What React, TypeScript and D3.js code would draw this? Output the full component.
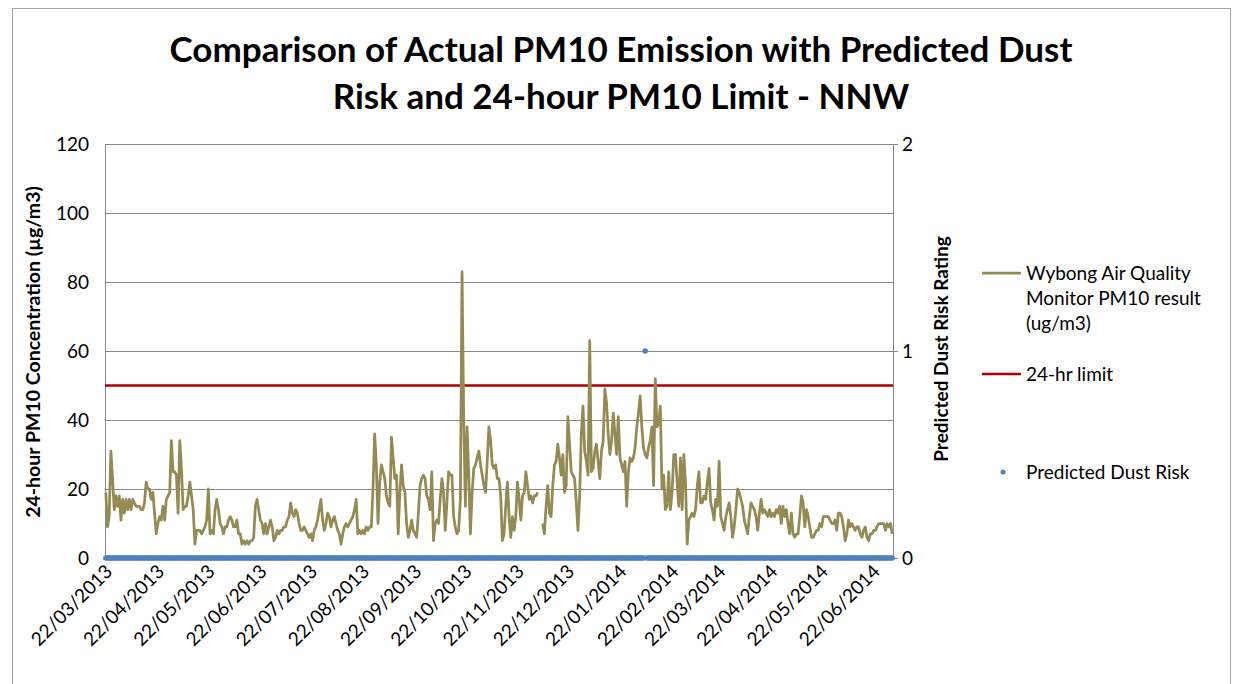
import React from 'react';
import * as d3 from 'd3';

// ---------- DATA ----------
const startDate = '22/03/2013';

// Daily Wybong PM10 (ug/m3), one value per day from 22/03/2013 (null = no data)
const pm10Values: (number | null)[] = [
  19, 9, 12, 31, 23, 14, 18, 15, 18, 11,
  17, 13, 17, 14, 17, 14, 17, 16, 15, 15,
  15, 14, 14, 16, 22, 20, 20, 17, 19, 13,
  7, 10, 12, 11, 15, 11, 17, 18, 19, 34,
  25, 25, 24, 13, 34, 26, 14, 15, 15, 18,
  22, 18, 14, 4, 8, 8, 8, 7, 8, 9,
  11, 20, 7, 8, 7, 14, 17, 14, 10, 9,
  7, 9, 9, 11, 12, 11, 9, 9, 11, 7,
  7, 4, 5, 4, 5, 4, 5, 5, 6, 15,
  17, 14, 11, 10, 7, 10, 7, 9, 11, 9,
  5, 6, 8, 7, 8, 8, 9, 9, 11, 12,
  16, 13, 12, 14, 13, 10, 8, 8, 9, 8,
  7, 6, 7, 5, 8, 9, 11, 14, 17, 11,
  8, 10, 13, 12, 9, 11, 12, 10, 8, 7,
  4, 7, 9, 10, 9, 10, 11, 12, 14, 17,
  7, 8, 7, 8, 7, 9, 8, 9, 9, 20,
  36, 27, 10, 22, 27, 25, 23, 18, 16, 15,
  35, 29, 23, 24, 7, 19, 27, 21, 19, 10,
  6, 8, 11, 8, 7, 6, 13, 21, 23, 24,
  23, 18, 17, 14, 25, 5, 10, 11, 10, 17,
  23, 19, 8, 16, 25, 24, 24, 12, 9, 7,
  8, 17, 83, 40, 15, 38, 24, 7, 19, 26,
  27, 29, 31, 27, 24, 21, 19, 28, 38, 34,
  27, 26, 27, 23, 23, 18, 5, 7, 15, 22,
  12, 6, 12, 8, 12, 22, 17, 11, 18, 19,
  25, 21, 17, 18, 16, 18, 18, 19, null, null,
  10, 7, 15, 21, 13, 12, 21, 27, 28, 33,
  29, 24, 30, 19, 21, 41, 33, 25, 24, 23,
  16, 8, 18, 36, 44, 31, 28, 24, 63, 25,
  26, 31, 33, 28, 23, 31, 34, 49, 45, 36,
  30, 34, 42, 36, 30, 41, 29, 27, 25, 28,
  15, 25, 29, 28, 29, 32, 38, 42, 47, 38,
  32, 30, 29, 32, 34, 38, 21, 52, 38, 39,
  44, 20, 24, 14, 15, 25, 14, 19, 30, 30,
  22, 15, 29, 14, 30, 22, 4, 11, 12, 13,
  12, 14, 21, 25, 16, 16, 18, 17, 22, 26,
  16, 14, 11, 17, 15, 28, 12, 10, 8, 12,
  14, 16, 12, 6, 9, 14, 20, 19, 17, 15,
  11, 9, 7, 12, 16, 15, 14, 12, 8, 13,
  17, 13, 14, 13, 12, 14, 12, 13, 12, 14,
  13, 15, 10, 15, 12, 14, 10, 7, 13, 7,
  6, 7, 7, 12, 18, 16, 9, 14, 12, 9,
  6, 6, 7, 8, 8, 10, 9, 12, 12, 12,
  12, 11, 10, 10, 11, 8, 13, 13, 12, 9,
  5, 7, 11, 9, 10, 9, 8, 9, 9, 7,
  6, 8, 9, 6, 5, 7, 7, 8, 8, 9,
  10, 10, 10, 10, 8, 10, 9, 10, 7,
];

// Daily predicted dust risk rating (right axis)
const dustRiskValues: number[] = [
  0, 0, 0, 0, 0, 0, 0, 0, 0, 0, 0, 0, 0, 0, 0, 0, 0, 0, 0, 0,
  0, 0, 0, 0, 0, 0, 0, 0, 0, 0, 0, 0, 0, 0, 0, 0, 0, 0, 0, 0,
  0, 0, 0, 0, 0, 0, 0, 0, 0, 0, 0, 0, 0, 0, 0, 0, 0, 0, 0, 0,
  0, 0, 0, 0, 0, 0, 0, 0, 0, 0, 0, 0, 0, 0, 0, 0, 0, 0, 0, 0,
  0, 0, 0, 0, 0, 0, 0, 0, 0, 0, 0, 0, 0, 0, 0, 0, 0, 0, 0, 0,
  0, 0, 0, 0, 0, 0, 0, 0, 0, 0, 0, 0, 0, 0, 0, 0, 0, 0, 0, 0,
  0, 0, 0, 0, 0, 0, 0, 0, 0, 0, 0, 0, 0, 0, 0, 0, 0, 0, 0, 0,
  0, 0, 0, 0, 0, 0, 0, 0, 0, 0, 0, 0, 0, 0, 0, 0, 0, 0, 0, 0,
  0, 0, 0, 0, 0, 0, 0, 0, 0, 0, 0, 0, 0, 0, 0, 0, 0, 0, 0, 0,
  0, 0, 0, 0, 0, 0, 0, 0, 0, 0, 0, 0, 0, 0, 0, 0, 0, 0, 0, 0,
  0, 0, 0, 0, 0, 0, 0, 0, 0, 0, 0, 0, 0, 0, 0, 0, 0, 0, 0, 0,
  0, 0, 0, 0, 0, 0, 0, 0, 0, 0, 0, 0, 0, 0, 0, 0, 0, 0, 0, 0,
  0, 0, 0, 0, 0, 0, 0, 0, 0, 0, 0, 0, 0, 0, 0, 0, 0, 0, 0, 0,
  0, 0, 0, 0, 0, 0, 0, 0, 0, 0, 0, 0, 0, 0, 0, 0, 0, 0, 0, 0,
  0, 0, 0, 0, 0, 0, 0, 0, 0, 0, 0, 0, 0, 0, 0, 0, 0, 0, 0, 0,
  0, 0, 0, 0, 0, 0, 0, 0, 0, 0, 0, 0, 0, 0, 0, 0, 0, 0, 0, 0,
  0, 1, 0, 0, 0, 0, 0, 0, 0, 0, 0, 0, 0, 0, 0, 0, 0, 0, 0, 0,
  0, 0, 0, 0, 0, 0, 0, 0, 0, 0, 0, 0, 0, 0, 0, 0, 0, 0, 0, 0,
  0, 0, 0, 0, 0, 0, 0, 0, 0, 0, 0, 0, 0, 0, 0, 0, 0, 0, 0, 0,
  0, 0, 0, 0, 0, 0, 0, 0, 0, 0, 0, 0, 0, 0, 0, 0, 0, 0, 0, 0,
  0, 0, 0, 0, 0, 0, 0, 0, 0, 0, 0, 0, 0, 0, 0, 0, 0, 0, 0, 0,
  0, 0, 0, 0, 0, 0, 0, 0, 0, 0, 0, 0, 0, 0, 0, 0, 0, 0, 0, 0,
  0, 0, 0, 0, 0, 0, 0, 0, 0, 0, 0, 0, 0, 0, 0, 0, 0, 0, 0, 0,
  0, 0, 0, 0, 0, 0, 0, 0, 0,
];

const limitValue = 50;

const leftTicks = [0, 20, 40, 60, 80, 100, 120];
const rightTicks = [0, 1, 2];

const xTickLabels = [
  '22/03/2013', '22/04/2013', '22/05/2013', '22/06/2013', '22/07/2013', '22/08/2013',
  '22/09/2013', '22/10/2013', '22/11/2013', '22/12/2013', '22/01/2014', '22/02/2014',
  '22/03/2014', '22/04/2014', '22/05/2014', '22/06/2014',
];

const titleLines = [
  'Comparison of Actual PM10 Emission with Predicted Dust',
  'Risk and 24-hour PM10 Limit - NNW',
];
const leftAxisTitle = '24-hour PM10 Concentration (µg/m3)';
const rightAxisTitle = 'Predicted Dust Risk Rating';

const legendPm10 = ['Wybong Air Quality', 'Monitor PM10 result', '(ug/m3)'];
const legendLimit = '24-hr limit';
const legendRisk = 'Predicted Dust Risk';

// ---------- STYLE ----------
const COLORS = {
  pm10: '#948A54',
  limit: '#B00000',
  risk: '#4F81BD',
  grid: '#898989',
  text: '#000000',
};
const FONT = "Lato, 'Open Sans', sans-serif";

const DAY = 86400000;
const parseDMY = (s: string) => {
  const [d, m, y] = s.split('/').map(Number);
  return new Date(Date.UTC(y, m - 1, d));
};
const addDays = (dt: Date, n: number) => new Date(dt.getTime() + n * DAY);

export default function App() {
  const W = 1237;
  const H = 684;
  const plot = { left: 105, right: 893, top: 144, bottom: 558 };

  const start = parseDMY(startDate);
  const n = pm10Values.length;

  const x = d3
    .scaleUtc()
    .domain([addDays(start, -0.5), addDays(start, n - 0.5)])
    .range([plot.left, plot.right]);
  const y = d3.scaleLinear().domain([0, 120]).range([plot.bottom, plot.top]);
  const y2 = d3.scaleLinear().domain([0, 2]).range([plot.bottom, plot.top]);

  const pmPoints = pm10Values.map((v, i) => ({ date: addDays(start, i), v }));
  const riskPoints = dustRiskValues.map((v, i) => ({ date: addDays(start, i), v }));

  const line = d3
    .line<{ date: Date; v: number | null }>()
    .defined((d) => d.v != null)
    .x((d) => x(d.date))
    .y((d) => y(d.v as number));

  const fs = 19;

  return (
    <svg
      width={W}
      height={H}
      style={{ position: 'absolute', left: 0, top: 0, display: 'block', background: '#fff' }}
      fontFamily={FONT}
    >
      <rect x={0} y={0} width={W} height={H} fill="#fff" />
      {/* chart border */}
      <rect x={12.5} y={8.5} width={1218} height={720} fill="none" stroke="#A6A6A6" strokeWidth={1} />

      {/* title */}
      {titleLines.map((t, i) => (
        <text
          key={t}
          x={621}
          y={62 + i * 47}
          textAnchor="middle"
          fontSize={35}
          fontWeight={700}
          fill={COLORS.text}
        >
          {t}
        </text>
      ))}

      {/* gridlines */}
      {leftTicks.filter((t) => t > 0).map((t) => (
        <line
          key={t}
          x1={plot.left}
          x2={plot.right}
          y1={Math.round(y(t)) + 0.5}
          y2={Math.round(y(t)) + 0.5}
          stroke={COLORS.grid}
          strokeWidth={1}
        />
      ))}
      {/* axes lines */}
      <line x1={plot.left + 0.5} x2={plot.left + 0.5} y1={plot.top} y2={plot.bottom} stroke={COLORS.grid} />
      <line x1={plot.right + 0.5} x2={plot.right + 0.5} y1={plot.top} y2={plot.bottom} stroke={COLORS.grid} />
      <line x1={plot.left} x2={plot.right} y1={plot.bottom + 0.5} y2={plot.bottom + 0.5} stroke={COLORS.grid} />

      {/* left ticks */}
      {leftTicks.map((t) => (
        <text
          key={t}
          x={89}
          y={y(t)}
          dy="0.35em"
          textAnchor="end"
          fontSize={fs}
          fill={COLORS.text}
        >
          {t}
        </text>
      ))}
      {/* right ticks */}
      {rightTicks.map((t) => (
        <g key={t}>
          <line x1={plot.right} x2={plot.right + 5} y1={y2(t) + 0.5} y2={y2(t) + 0.5} stroke={COLORS.grid} />
          <text x={902} y={y2(t)} dy="0.35em" textAnchor="start" fontSize={fs} fill={COLORS.text}>
            {t}
          </text>
        </g>
      ))}

      {/* axis titles */}
      <text
        transform={`translate(40, ${(plot.top + plot.bottom) / 2 + 1}) rotate(-90)`}
        textAnchor="middle"
        fontSize={19.5}
        fontWeight={700}
        fill={COLORS.text}
      >
        {leftAxisTitle}
      </text>
      <text
        transform={`translate(948, ${(plot.top + plot.bottom) / 2 - 2}) rotate(-90)`}
        textAnchor="middle"
        fontSize={fs}
        fontWeight={700}
        fill={COLORS.text}
      >
        {rightAxisTitle}
      </text>

      {/* x tick labels */}
      {xTickLabels.map((s) => {
        const px = x(parseDMY(s));
        return (
          <text
            key={s}
            transform={`translate(${px + 3}, ${568}) rotate(-45)`}
            textAnchor="end"
            dy="0.35em"
            fontSize={fs}
            fill={COLORS.text}
          >
            {s}
          </text>
        );
      })}

      {/* limit line */}
      <line
        x1={plot.left}
        x2={plot.right}
        y1={y(limitValue)}
        y2={y(limitValue)}
        stroke={COLORS.limit}
        strokeWidth={2.5}
      />

      {/* PM10 line */}
      <path d={line(pmPoints) || ''} fill="none" stroke={COLORS.pm10} strokeWidth={2.75} strokeLinejoin="round" />

      {/* dust risk points */}
      {riskPoints.map((p, i) => (
        <circle key={i} cx={x(p.date)} cy={y2(p.v)} r={2.75} fill={COLORS.risk} />
      ))}

      {/* legend */}
      <g>
        <line x1={982} x2={1021} y1={273} y2={273} stroke={COLORS.pm10} strokeWidth={2.75} />
        {legendPm10.map((t, i) => (
          <text key={t} x={1026} y={273 + i * 25} dy="0.35em" fontSize={fs} fill={COLORS.text}>
            {t}
          </text>
        ))}
        <line x1={982} x2={1021} y1={374} y2={374} stroke={COLORS.limit} strokeWidth={2.5} />
        <text x={1026} y={374} dy="0.35em" fontSize={fs} fill={COLORS.text}>
          {legendLimit}
        </text>
        <circle cx={1003} cy={472} r={2.5} fill={COLORS.risk} />
        <text x={1026} y={472} dy="0.35em" fontSize={fs} fill={COLORS.text}>
          {legendRisk}
        </text>
      </g>
    </svg>
  );
}
